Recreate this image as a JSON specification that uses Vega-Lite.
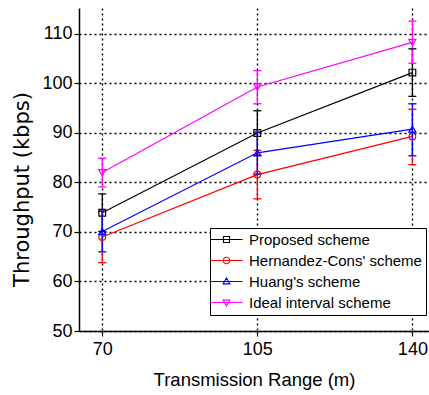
{
  "$schema": "https://vega.github.io/schema/vega-lite/v6.json",
  "autosize": "none",
  "width": 350,
  "height": 323,
  "padding": {"left": 79, "top": 8, "right": 0, "bottom": 64},
  "background": "white",
  "config": {
    "view": {"stroke": null},
    "font": "Liberation Sans",
    "axis": {
      "domainColor": "black", "domainWidth": 1.5,
      "tickColor": "black", "tickSize": 5, "tickWidth": 1.2,
      "gridColor": "black", "gridDash": [2, 3], "gridWidth": 1.4, "gridOpacity": 1,
      "labelColor": "black", "labelFont": "Liberation Sans", "labelFontSize": 18,
      "titleColor": "black", "titleFont": "Liberation Sans", "titleFontWeight": "normal"
    },
    "legend": {
      "orient": "none", "legendX": 131, "legendY": 220, "title": null,
      "strokeColor": "black", "fillColor": "white", "padding": 4,
      "labelFont": "Liberation Sans", "labelFontSize": 15, "labelColor": "black", "labelLimit": 300,
      "symbolSize": 64, "symbolStrokeWidth": 1.1, "symbolOpacity": 1, "symbolFillColor": "transparent",
      "symbolOffset": 5, "labelOffset": 15, "rowPadding": 5
    }
  },
  "data": {"values": [
    {"series": "Proposed scheme", "range": 70, "thr": 73.9, "lo": 70.1, "hi": 77.7},
    {"series": "Proposed scheme", "range": 105, "thr": 90.0, "lo": 85.5, "hi": 94.5},
    {"series": "Proposed scheme", "range": 140, "thr": 102.2, "lo": 97.4, "hi": 107.0},
    {"series": "Hernandez-Cons' scheme", "range": 70, "thr": 69.0, "lo": 63.8, "hi": 74.2},
    {"series": "Hernandez-Cons' scheme", "range": 105, "thr": 81.6, "lo": 76.7, "hi": 86.5},
    {"series": "Hernandez-Cons' scheme", "range": 140, "thr": 89.3, "lo": 83.6, "hi": 94.8},
    {"series": "Huang's scheme", "range": 70, "thr": 70.1, "lo": 66.0, "hi": 74.2},
    {"series": "Huang's scheme", "range": 105, "thr": 86.0, "lo": 81.7, "hi": 90.2},
    {"series": "Huang's scheme", "range": 140, "thr": 90.8, "lo": 85.4, "hi": 95.9},
    {"series": "Ideal interval scheme", "range": 70, "thr": 82.0, "lo": 79.1, "hi": 84.9},
    {"series": "Ideal interval scheme", "range": 105, "thr": 99.3, "lo": 95.9, "hi": 102.6},
    {"series": "Ideal interval scheme", "range": 140, "thr": 108.3, "lo": 104.1, "hi": 112.6}
  ]},
  "encoding": {
    "x": {"field": "range", "type": "quantitative",
      "scale": {"domain": [64.75, 143.75], "nice": false, "zero": false},
      "axis": {"values": [70, 105, 140], "title": "Transmission Range (m)", "titleFontSize": 18.5, "labelPadding": 4, "titlePadding": 12, "grid": true}},
    "color": {"field": "series", "type": "nominal",
      "scale": {"domain": ["Proposed scheme", "Hernandez-Cons' scheme", "Huang's scheme", "Ideal interval scheme"],
                "range": ["#000000", "#ff0000", "#0000ff", "#ff00ff"]}}
  },
  "layer": [
    {
      "mark": {"type": "line", "strokeWidth": 1.2},
      "encoding": {
        "y": {"field": "thr", "type": "quantitative", "title": "Throughput (kbps)",
          "scale": {"domain": [50, 115.25], "nice": false, "zero": false},
          "axis": {"values": [50, 60, 70, 80, 90, 100, 110], "titleFont": "DejaVu Sans", "titleFontSize": 21,
                   "titleAngle": -90, "titleX": -47, "titleY": 181, "titleAlign": "center", "titleBaseline": "bottom",
                   "labelPadding": 2, "grid": true}}
      }
    },
    {
      "mark": {"type": "rule", "strokeWidth": 1.3},
      "encoding": {
        "y": {"field": "lo", "type": "quantitative", "title": "Throughput (kbps)"},
        "y2": {"field": "hi"}
      }
    },
    {
      "mark": {"type": "point", "shape": "M-1,0H1", "filled": false, "size": 64, "strokeWidth": 1.3, "opacity": 1},
      "encoding": {"y": {"field": "lo", "type": "quantitative", "title": "Throughput (kbps)"}}
    },
    {
      "mark": {"type": "point", "shape": "M-1,0H1", "filled": false, "size": 64, "strokeWidth": 1.3, "opacity": 1},
      "encoding": {"y": {"field": "hi", "type": "quantitative", "title": "Throughput (kbps)"}}
    },
    {
      "transform": [{"filter": "datum.series === 'Proposed scheme'"}],
      "mark": {"type": "point", "shape": "square", "filled": false, "size": 45, "strokeWidth": 1.2, "opacity": 1},
      "encoding": {"y": {"field": "thr", "type": "quantitative", "title": "Throughput (kbps)"}}
    },
    {
      "transform": [{"filter": "datum.series === \"Hernandez-Cons' scheme\""}],
      "mark": {"type": "point", "shape": "circle", "filled": false, "size": 45, "strokeWidth": 1.2, "opacity": 1},
      "encoding": {"y": {"field": "thr", "type": "quantitative", "title": "Throughput (kbps)"}}
    },
    {
      "transform": [{"filter": "datum.series === \"Huang's scheme\""}],
      "mark": {"type": "point", "shape": "triangle-up", "filled": false, "size": 50, "strokeWidth": 1.2, "opacity": 1},
      "encoding": {"y": {"field": "thr", "type": "quantitative", "title": "Throughput (kbps)"}}
    },
    {
      "transform": [{"filter": "datum.series === 'Ideal interval scheme'"}],
      "mark": {"type": "point", "shape": "triangle-down", "filled": false, "size": 50, "strokeWidth": 1.2, "opacity": 1},
      "encoding": {"y": {"field": "thr", "type": "quantitative", "title": "Throughput (kbps)"}}
    },
    {
      "mark": {"type": "point", "filled": false, "opacity": 0},
      "encoding": {
        "y": {"field": "thr", "type": "quantitative", "title": "Throughput (kbps)"},
        "shape": {"field": "series", "type": "nominal",
          "scale": {"domain": ["Proposed scheme", "Hernandez-Cons' scheme", "Huang's scheme", "Ideal interval scheme"],
            "range": [
              "M-4,0H4M-0.75,-0.75H0.75V0.75H-0.75Z",
              "M-4,0H4M0.8,0A0.8,0.8,0,1,1,-0.8,0A0.8,0.8,0,1,1,0.8,0",
              "M-4,0H4M0,-0.9L0.85,0.6H-0.85Z",
              "M-4,0H4M0,0.9L0.85,-0.6H-0.85Z"]}}
      }
    }
  ]
}
